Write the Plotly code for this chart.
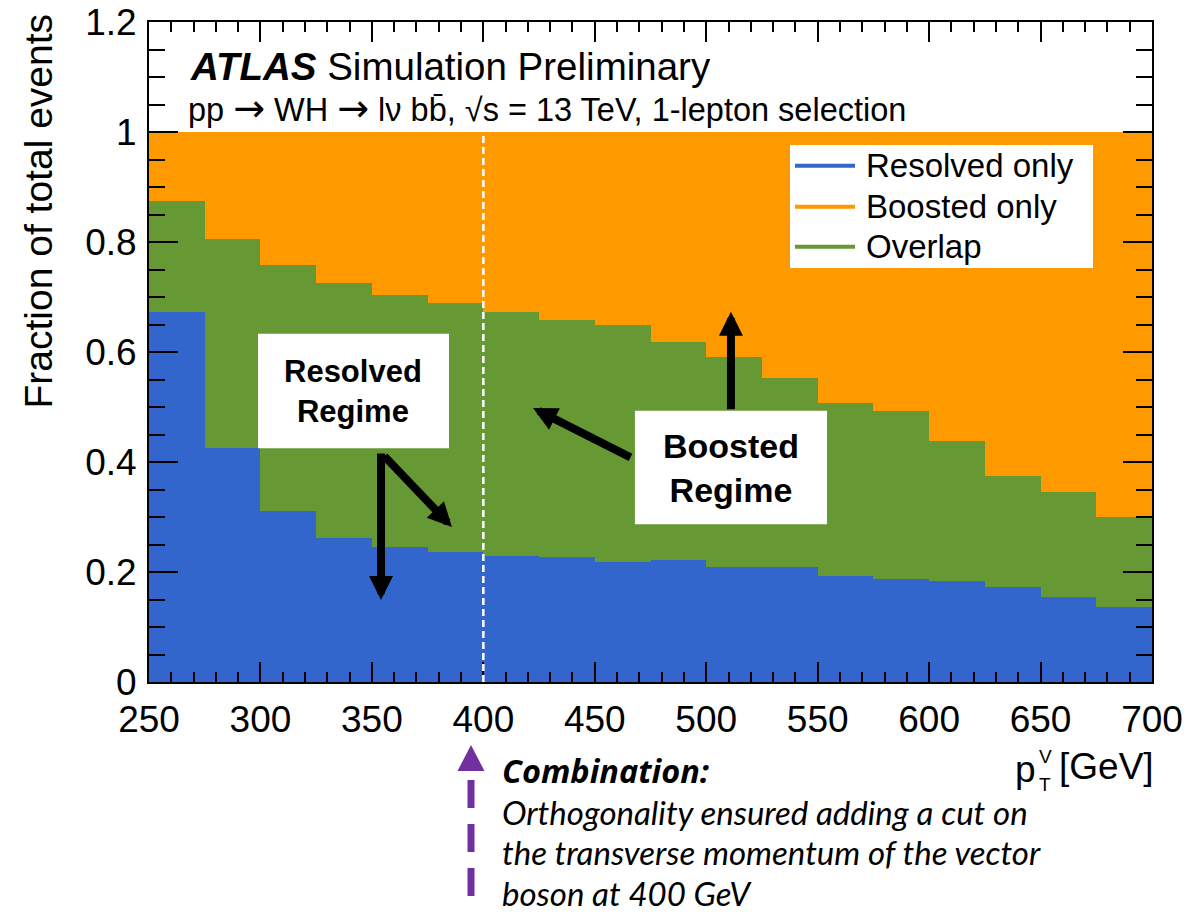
import plotly.graph_objects as go

# ---- data ----
bin_low = [250, 275, 300, 325, 350, 375, 400, 425, 450, 475, 500, 525, 550, 575, 600, 625, 650, 675]
bin_width = 25
resolved_only = [0.673, 0.425, 0.311, 0.261, 0.245, 0.236, 0.229, 0.228, 0.219, 0.222,
                 0.209, 0.210, 0.193, 0.187, 0.183, 0.172, 0.155, 0.136]
overlap = [0.202, 0.381, 0.448, 0.465, 0.459, 0.453, 0.443, 0.431, 0.431, 0.396,
           0.382, 0.343, 0.314, 0.305, 0.255, 0.203, 0.191, 0.164]
boosted_only = [0.125, 0.194, 0.241, 0.274, 0.296, 0.311, 0.328, 0.341, 0.350, 0.382,
                0.409, 0.447, 0.493, 0.508, 0.562, 0.625, 0.654, 0.700]
x_ticks = [250, 300, 350, 400, 450, 500, 550, 600, 650, 700]
y_ticks = [0, 0.2, 0.4, 0.6, 0.8, 1, 1.2]
legend_names = ["Resolved only", "Boosted only", "Overlap"]
cut_value = 400

BLUE = "#3366CC"
ORANGE = "#FF9900"
GREEN = "#669933"
PURPLE = "#7030A0"
FONT = "Liberation Sans"
legend_colors = [BLUE, ORANGE, GREEN]

# plot-area geometry in pixels (for paper-coordinate placement of decorations)
L, R, T, B = 149, 1152, 22, 682
W, H = R - L, B - T


def px(x):
    return (x - L) / W


def py(y):
    return (B - y) / H


centers = [b + bin_width / 2 for b in bin_low]

fig = go.Figure()
fig.add_trace(go.Bar(x=centers, y=resolved_only, width=bin_width, marker=dict(color=BLUE, line=dict(width=0)),
                     name="Resolved only"))
fig.add_trace(go.Bar(x=centers, y=overlap, width=bin_width, marker=dict(color=GREEN, line=dict(width=0)),
                     name="Overlap"))
fig.add_trace(go.Bar(x=centers, y=boosted_only, width=bin_width, marker=dict(color=ORANGE, line=dict(width=0)),
                     name="Boosted only"))

fig.update_layout(
    width=1198, height=915,
    margin=dict(l=L, r=1198 - R, t=T, b=915 - B),
    barmode="stack", bargap=0,
    plot_bgcolor="white", paper_bgcolor="white",
    font=dict(family=FONT, color="black"),
    showlegend=False,
)

fig.update_xaxes(range=[250, 700], tickvals=x_ticks, ticks="inside", ticklen=20, tickwidth=1.5,
                 tickcolor="black", showline=True, linecolor="black", linewidth=2, mirror="ticks",
                 showgrid=False, zeroline=False, tickfont=dict(size=37, family=FONT),
                 ticklabelstandoff=4, automargin=False,
                 minor=dict(dtick=10, ticks="inside", ticklen=10, tickwidth=1.5, tickcolor="black", showgrid=False))
fig.update_yaxes(range=[0, 1.2], tickvals=y_ticks, ticks="inside", ticklen=29, tickwidth=1.5,
                 tickcolor="black", showline=True, linecolor="black", linewidth=2, mirror="ticks",
                 showgrid=False, zeroline=False, tickfont=dict(size=37, family=FONT),
                 ticklabelstandoff=3, automargin=False,
                 minor=dict(dtick=0.05, ticks="inside", ticklen=16, tickwidth=1.5, tickcolor="black", showgrid=False))

shapes = []
# white dashed cut line
shapes.append(dict(type="line", xref="x", yref="y", x0=cut_value, x1=cut_value, y0=0, y1=1,
                   line=dict(color="white", width=2.5, dash="7px,4px"), layer="above"))
# text boxes
shapes.append(dict(type="rect", xref="x", yref="y", x0=298.9, x1=384.6, y0=0.425, y1=0.633,
                   fillcolor="white", line=dict(width=0), layer="above"))
shapes.append(dict(type="rect", xref="x", yref="y", x0=468.0, x1=554.2, y0=0.287, y1=0.493,
                   fillcolor="white", line=dict(width=0), layer="above"))
# legend box and line samples
shapes.append(dict(type="rect", xref="paper", yref="paper", x0=px(790), x1=px(1093), y0=py(268), y1=py(145),
                   fillcolor="white", line=dict(width=0), layer="above"))
leg_y = [165.7, 206.7, 246.7]
for c, ly in zip(legend_colors, leg_y):
    shapes.append(dict(type="line", xref="paper", yref="paper", x0=px(795), x1=px(855), y0=py(ly), y1=py(ly),
                       line=dict(color=c, width=4), layer="above"))
# purple dashed arrow below the plot
ax_p = px(471)
shapes.append(dict(type="line", xref="paper", yref="paper", x0=ax_p, x1=ax_p, y0=py(780), y1=py(903),
                   line=dict(color=PURPLE, width=7, dash="28px,16px"), layer="above"))
hw = 13.5 / W
shapes.append(dict(type="path", xref="paper", yref="paper",
                   path=f"M {ax_p},{py(745)} L {ax_p + hw},{py(771)} L {ax_p - hw},{py(771)} Z",
                   fillcolor=PURPLE, line=dict(width=0), layer="above"))
fig.update_layout(shapes=shapes)

ARW = "<span style='font-family:DejaVu Sans;font-size:38px'>→</span>"
ann = []
ann.append(dict(xref="paper", yref="paper", x=px(188), y=py(66), xanchor="left", yanchor="middle",
                text="<b><i>ATLAS</i></b> Simulation Preliminary", showarrow=False, font=dict(size=38.5, family=FONT)))
ann.append(dict(xref="paper", yref="paper", x=px(186), y=py(108), xanchor="left", yanchor="middle",
                text=f"pp {ARW} WH {ARW} lν bb̄, √s = 13 TeV, 1-lepton selection", showarrow=False,
                font=dict(size=32.5, family=FONT)))
# legend texts
for name, ly in zip(legend_names, leg_y):
    ann.append(dict(xref="paper", yref="paper", x=px(864), y=py(ly), xanchor="left", yanchor="middle",
                    text=name, showarrow=False, font=dict(size=33, family=FONT)))
# y title
ann.append(dict(xref="paper", yref="paper", x=px(38), y=py(12), xanchor="center", yanchor="top",
                text="Fraction of total events", textangle=-90, showarrow=False, font=dict(size=39, family=FONT)))
# x title pieces
ann.append(dict(xref="paper", yref="paper", x=px(1156), y=py(766), xanchor="right", yanchor="middle",
                text="[GeV]", showarrow=False, font=dict(size=37, family=FONT)))
ann.append(dict(xref="paper", yref="paper", x=px(1025), y=py(769), xanchor="center", yanchor="middle",
                text="p", showarrow=False, font=dict(size=37, family=FONT)))
ann.append(dict(xref="paper", yref="paper", x=px(1045), y=py(756), xanchor="center", yanchor="middle",
                text="V", showarrow=False, font=dict(size=19, family=FONT)))
ann.append(dict(xref="paper", yref="paper", x=px(1045), y=py(784), xanchor="center", yanchor="middle",
                text="T", showarrow=False, font=dict(size=19, family=FONT)))
# regime labels
ann.append(dict(xref="x", yref="y", x=341.7, y=0.529, text="<b>Resolved<br>Regime</b>", showarrow=False,
                font=dict(size=31, family=FONT)))
ann.append(dict(xref="x", yref="y", x=511.1, y=0.390, text="<b>Boosted<br>Regime</b>", showarrow=False,
                font=dict(size=34, family=FONT)))
# black arrows
for (tx, ty, sx, sy) in [(354.1, 0.149, 354.1, 0.418),
                         (385.9, 0.282, 355.0, 0.413),
                         (422.3, 0.498, 466.7, 0.407),
                         (511.1, 0.673, 511.1, 0.493)]:
    ann.append(dict(xref="x", yref="y", axref="x", ayref="y", x=tx, y=ty, ax=sx, ay=sy, text="",
                    showarrow=True, arrowhead=2, arrowwidth=8, arrowsize=0.6, arrowcolor="black", standoff=0))
# combination text
ann.append(dict(xref="paper", yref="paper", x=px(500), y=py(770), xanchor="left", yanchor="middle",
                text="<b><i>Combination:</i></b>", showarrow=False, font=dict(size=32.5, family="Open Sans")))
comb_lines = [
    "<i>Orthogonality ensured adding a cut on</i>",
    "<i>the transverse momentum of the vector</i>",
    "<i>boson at 400 GeV</i>",
]
comb_y = [812, 852, 893]
for t, yy in zip(comb_lines, comb_y):
    ann.append(dict(xref="paper", yref="paper", x=px(500), y=py(yy), xanchor="left",
                    yanchor="middle", text=t, showarrow=False, font=dict(size=33, family="Lato")))
fig.update_layout(annotations=ann)

fig.write_html("out.html")
